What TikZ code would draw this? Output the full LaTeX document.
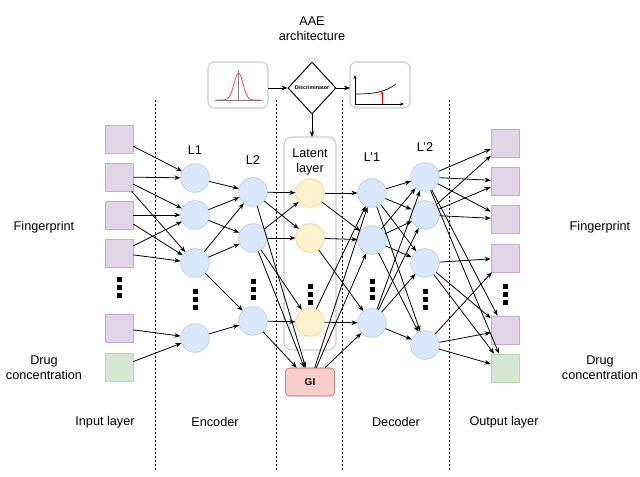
\documentclass[tikz,border=0pt]{standalone}
\usepackage{fontspec}
\setmainfont{Liberation Sans}
\usetikzlibrary{arrows.meta,shapes.geometric}
\definecolor{pf}{HTML}{E1D5E7}\definecolor{pd}{HTML}{C3ABD0}
\definecolor{gf}{HTML}{D5E8D4}\definecolor{gd}{HTML}{B9D8B0}
\definecolor{bf}{HTML}{DAE8FC}\definecolor{bd}{HTML}{A9C4EB}
\definecolor{yf}{HTML}{FFF2CC}\definecolor{yd}{HTML}{E6CF8A}
\definecolor{rf}{HTML}{F8CECC}\definecolor{rd}{HTML}{B85450}
\begin{document}
\begin{tikzpicture}[x=0.75pt,y=-0.75pt,
  sq/.style={draw=pd,fill=pf,minimum size=21pt,inner sep=0pt},
  gsq/.style={draw=gd,fill=gf,minimum size=21pt,inner sep=0pt},
  bc/.style={circle,draw=bd,fill=bf,minimum size=21.5pt,inner sep=0pt},
  yc/.style={circle,draw=yd,fill=yf,minimum size=21.5pt,inner sep=0pt},
  ar/.style={-{Stealth[length=4.5pt,width=3.5pt]},line width=0.6pt},
  lab/.style={font=\fontsize{9.5}{11}\selectfont,align=center},
  dl/.style={dash pattern=on 1.5pt off 1.5pt,line width=0.6pt},
  dots/.style={fill=black,minimum width=5pt,minimum height=4.5pt,inner sep=0pt}]
\useasboundingbox (0,0) rectangle (640,477);
% dashed lines
\foreach \x in {155,276,342,449} \draw[dl] (\x,100) -- (\x,470);
% dot helper
\newcommand{\vd}[2]{\foreach \d in {-8,0,8} \fill (#1-2.5,#2+\d-2.5) rectangle (#1+2.5,#2+\d+2.5);}
% inputs
\foreach \i/\y in {1/139,2/177,3/215,4/253,5/328}
  \node[sq] (i\i) at (119,\y) {};
\node[gsq] (i6) at (119,367) {};
\vd{119}{288}
% L1
\foreach \i/\y in {a/178,b/215,c/263,d/338} \node[bc] (a\i) at (195,\y) {};
\vd{195}{300}
% L2
\foreach \i/\y in {a/192,b/238,c/321} \node[bc] (b\i) at (253,\y) {};
\vd{253}{290}
% latent
\draw[draw=gd,line width=0.8pt,rounded corners=6pt] (284,137) rectangle (336,350);
\node[draw=none] (lbox) at (310,137) {};
\node[lab] (lt) at (310,162) {Latent\\layer};
\foreach \i/\y in {a/193,b/238,c/322} \node[yc] (z\i) at (310,\y) {};
\vd{310}{295}
\node[draw=rd,fill=rf,rounded corners=3pt,minimum width=37pt,minimum height=21pt,font=\bfseries\fontsize{7.5}{9}\selectfont] (gi) at (310,382) {GI};
% L'1
\foreach \i/\y in {a/193,b/240,c/323} \node[bc] (c\i) at (372,\y) {};
\vd{372}{290}
% L'2
\foreach \i/\y in {a/177,b/215,c/263,d/345} \node[bc] (d\i) at (425,\y) {};
\vd{425}{300}
% outputs
\foreach \i/\y in {1/143,2/181,3/219,4/258,5/330} \node[sq] (o\i) at (505,\y) {};
\node[gsq] (o6) at (505,368) {};
\vd{505}{295}
% layer labels
\node[lab] (l1) at (195,150) {L1};
\node[lab] (l2) at (253,160) {L2};
\node[lab] (l3) at (372,157) {L'1};
\node[lab] (l4) at (425,147) {L'2};
\node[lab] (f1) at (44,227) {Fingerprint};
\node[lab] (f2) at (44,368) {Drug\\concentration};
\node[lab] (f3) at (600,227) {Fingerprint};
\node[lab] (f4) at (600,368) {Drug\\concentration};
\node[lab] (t1) at (105,422) {Input layer};
\node[lab] (t2) at (215,422) {Encoder};
\node[lab] (t3) at (396,422) {Decoder};
\node[lab] (t4) at (504,422) {Output layer};
\node[lab] (tt) at (312,29) {AAE\\architecture};
% top
\draw[draw=gd,line width=0.8pt,rounded corners=5pt] (208,62) rectangle (268,108);
\node (pbox) at (268,88) {};
\draw[draw=gd,line width=0.8pt,rounded corners=5pt] (350,62) rectangle (410,108);
\node[diamond,draw,line width=0.7pt,minimum width=36pt,minimum height=39pt,inner sep=0pt,font=\bfseries\fontsize{4}{5}\selectfont] (disc) at (312,88) {Discriminator};
\coordinate (pr) at (268,88);
\coordinate (rl) at (350,88);
\coordinate (lbt) at (312,137);
\draw[ar] (pr) -- (disc);
\draw[ar] (disc) -- (rl);
\draw[ar] (disc) -- (lbt);
% gaussian
\draw[line width=0.3pt,gray] (215,100) -- (262,100);
\draw[line width=0.3pt,gray] (238.5,100) -- (238.5,70);
\draw[red!70,line width=0.6pt] plot[domain=-22:22,samples=40] ({238.5+\x},{100-27*exp(-\x*\x/40)});
% plot right
\draw[-{Stealth[length=3pt]},line width=0.6pt] (355,104) -- (404,104);
\draw[-{Stealth[length=3pt]},line width=0.6pt] (355,104) -- (355,75);
\draw[line width=0.5pt] (355,94) .. controls (375,94) and (385,92) .. (396,84);
\draw[red,-{Stealth[length=3pt]},line width=0.6pt] (382,104) -- (382,91);
% edges input->L1
\foreach \s/\t in {i1/aa,i2/aa,i2/ab,i2/ac,i3/ab,i3/ac,i4/ab,i4/ac,i5/ad,i6/ad,
  aa/ba,ab/ba,ab/bb,ac/ba,ac/bb,ac/bc,ad/bc,
  ba/za,ba/zb,bb/za,bb/zb,bb/zc,bc/zc,ba/gi,bb/gi,bc/gi,
  za/ca,za/cb,zb/cb,zb/cc,zc/ca,zc/cc,gi/ca,gi/cb,gi/cc,
  ca/da,ca/db,ca/dc,ca/dd,cb/da,cb/db,cb/dc,cb/dd,cc/da,cc/db,cc/dc,cc/dd,
  da/o1,da/o2,da/o3,da/o5,da/o6,db/o1,db/o2,db/o3,dc/o4,dc/o5,dc/o6,dd/o4,dd/o5,dd/o6}
  \draw[ar] (\s) -- (\t);
\end{tikzpicture}
\end{document}
